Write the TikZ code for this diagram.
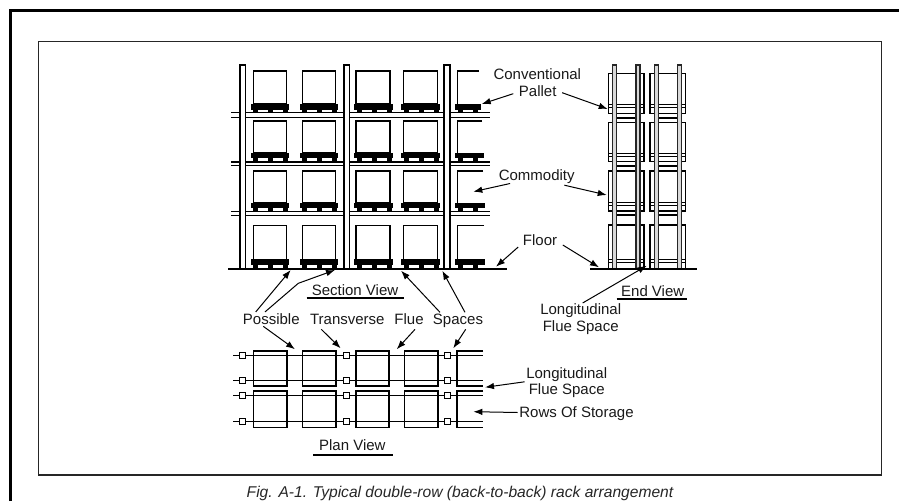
\documentclass[tikz,border=0pt]{standalone}
\usepackage{fontspec}
\setmainfont{Liberation Sans}
\usetikzlibrary{arrows.meta}

\begin{document}
\begin{tikzpicture}[x=1pt, y=-1pt,
    frameline/.style={line width=1.1pt, draw=black!85},
    rackline/.style={line width=1.4pt},
    upright/.style={line width=1.4pt, draw=black, fill=white},
    leader/.style={line width=1pt, -{Latex[length=9pt,width=6.5pt]}},
    viewline/.style={line width=1.8pt},
    lbl/.style={font=\fontsize{15}{16.7}\selectfont, text=black!90, inner sep=1.5pt, align=center}]
    \useasboundingbox (0, 0) rectangle (899, 501);
    % frames
    \draw [line width=3pt] (10, 501) -- (10, 10.5) -- (899, 10.5);
    \draw [frameline] (38.5, 41.5) rectangle (881.5, 475);
    % section view: beams and floor
    \draw [rackline] (231, 112.3) -- (490, 112.3);
    \draw [rackline] (231, 117.3) -- (490, 117.3);
    \draw [rackline] (231, 162) -- (490, 162);
    \draw [rackline] (231, 165.5) -- (490, 165.5);
    \draw [rackline] (231, 211.7) -- (490, 211.7);
    \draw [rackline] (231, 215.7) -- (490, 215.7);
    \draw [line width=2pt] (228, 269) -- (506.5, 269);
    % section view: uprights
    \foreach \x/\w in {240/5.5, 344/5.5, 444/6}
        \draw [upright] (\x, 65) rectangle ++(\w, 204);
    % section view: commodity
    \foreach \top/\bot/\open in {71/104/479, 121/153/482, 171/203/483, 225.7/260/484} {
        \foreach \x/\w in {253.3/33.4, 302.3/33.4, 356/34, 403.3/34}
            \draw [rackline] (\x, \top) rectangle ++(\w, \bot-\top);
        \draw [rackline] (\open, \top) -- (457.3, \top) -- (457.3, \bot);
    }
    % section view: pallets
    \foreach \y/\z in {104/112.3, 152.7/162, 202.7/211.7, 259.3/269} {
        \foreach \x in {250.7, 299.5, 354, 401} {
            \fill (\x, \y) rectangle ++(38.6, 5.5);
            \foreach \b in {2.5, 17.5, 32.5}
                \fill (\x+\b, \y) rectangle (\x+\b+5.2, \z);
        }
    }
    \foreach \y/\z/\e in {104/112.3/481, 152.7/162/484, 202.7/211.7/485, 259.3/269/485} {
        \fill (455, \y) rectangle (\e, \y+5.5);
        \foreach \b in {2.5, 17.5}
            \fill (455+\b, \y) rectangle (455+\b+5.2, \z);
    }
    % end view
    \foreach \x in {608.3, 650} {
        \foreach \top/\dk/\mid/\bot in {73.3/104.3/107.7/113.3, 122.7/153.3/156.7/161.7, 171/202.3/205.7/211, 225/259.3/262.7/269} {
            \draw [rackline] (\x, \top) rectangle (\x+35.7, \bot);
            \draw [rackline] (\x, \dk) -- ++(35.7, 0);
            \draw [rackline] (\x, \mid) -- ++(35.7, 0);
        }
        \foreach \y in {118, 166, 215}
            \draw [line width=1.7pt] (\x+6, \y) -- ++(24, 0);
        \draw [upright, draw=black!85, fill=black!15] (\x+4.4, 65) rectangle ++(4, 204);
        \draw [upright, draw=black!85, fill=black!15] (\x+27.7, 65) rectangle ++(4, 204);
    }
    \draw [line width=2pt] (590, 269) -- (696.7, 269);
    % plan view
    \foreach \top/\bot in {350.7/385.7, 390.7/427.3} {
        \foreach \x/\w in {253.3/33.4, 302.3/33.4, 356/33, 404.3/33.4}
            \draw [line width=1.6pt] (\x, \top) rectangle ++(\w, \bot-\top);
        \draw [line width=1.6pt] (483, \top) -- (456.7, \top) -- (456.7, \bot) -- (483, \bot);
    }
    \foreach \y in {355, 380.7, 395, 421} {
        \draw [line width=0.9pt] (233, \y) -- (483, \y);
        \foreach \x in {242.3, 346.3, 447.3}
            \draw [line width=0.9pt, fill=white] (\x-3, \y-3) rectangle ++(6, 6);
    }
    % labels
    \node [lbl] (conventional) at (537.3, 74) {Conventional};
    \node [lbl] (pallet) at (537.7, 90.7) {Pallet};
    \node [lbl] (commodity) at (536.7, 176.5) {Commodity};
    \node [lbl] (floor) at (540, 240) {Floor};
    \node [lbl] (endview) at (652.7, 291.5) {End View};
    \node [lbl] (flueend) at (580.7, 319) {Longitudinal\\Flue Space};
    \node [lbl] (sectionview) at (355, 290) {Section View};
    \node [lbl, anchor=base] (possible) at (271.3, 324.5) {Possible};
    \node [lbl, anchor=base] (transverse) at (347.3, 324.5) {Transverse};
    \node [lbl, anchor=base] (flue) at (409, 324.5) {Flue};
    \node [lbl, anchor=base] (spaces) at (458, 324.5) {Spaces};
    \node [lbl] (flueplan) at (566.7, 382.5) {Longitudinal\\Flue Space};
    \node [lbl, anchor=west] (rows) at (517.7, 413.5) {Rows Of Storage};
    \node [lbl] (planview) at (352.3, 445) {Plan View};
    \node [font=\fontsize{15.6}{17}\selectfont\itshape, text=black!85, inner sep=0pt] (caption) at (460, 493)
        {Fig. A-1. Typical double-row (back-to-back) rack arrangement};
    % underlines
    \draw [viewline] (306.7, 298) -- (404, 298);
    \draw [viewline] (616.7, 298.7) -- (686.7, 298.7);
    \draw [viewline] (313, 455) -- (393, 455);
    % arrow ends
    \coordinate (palletL) at (481.7, 104);
    \coordinate (palletR) at (607.7, 109);
    \coordinate (commodityL) at (473.3, 191.7);
    \coordinate (commodityR) at (606.7, 195);
    \coordinate (floorL) at (496, 266.7);
    \coordinate (floorR) at (599, 267.3);
    \coordinate (flueEndTip) at (646.7, 265.7);
    \coordinate (sectionA) at (290.7, 270);
    \coordinate (sectionB) at (335, 270);
    \coordinate (sectionBend) at (298.3, 283.3);
    \coordinate (sectionC) at (401, 270.7);
    \coordinate (sectionD) at (442.3, 270.7);
    \coordinate (planA) at (295, 349.3);
    \coordinate (planB) at (340.7, 348.3);
    \coordinate (planC) at (396.7, 349.3);
    \coordinate (planD) at (453.3, 348.3);
    \coordinate (flueTip) at (485, 387.3);
    \coordinate (rowsTip) at (473.3, 411.7);
    % arrows
    \draw [leader] ([xshift=-4pt, yshift=-3pt]pallet.west) -- (palletL);
    \draw [leader] ([xshift=4pt, yshift=-2pt]pallet.east) -- (palletR);
    \draw [leader] ([xshift=13pt, yshift=1.7pt]commodity.south west) -- (commodityL);
    \draw [leader] ([xshift=-12pt]commodity.south east) -- (commodityR);
    \draw [leader] ([xshift=-3pt, yshift=-7pt]floor.west) -- (floorL);
    \draw [leader] ([xshift=4pt, yshift=-5pt]floor.east) -- (floorR);
    \draw [leader] ([xshift=2pt, yshift=-1pt]flueend.north) -- (flueEndTip);
    \draw [leader] ([xshift=-15.6pt]possible.north) -- (sectionA);
    \draw [leader] ([xshift=-6.3pt]possible.north) -- (sectionBend) -- (sectionB);
    \draw [leader] ([xshift=-18pt]spaces.north) -- (sectionC);
    \draw [leader] ([xshift=7pt]spaces.north) -- (sectionD);
    \draw [leader] ([xshift=-8pt]possible.south) -- (planA);
    \draw [leader] ([xshift=-26pt, yshift=-3pt]transverse.south) -- (planB);
    \draw [leader] ([xshift=6pt, yshift=-3pt]flue.south) -- (planC);
    \draw [leader] ([xshift=7.7pt]spaces.south) -- (planD);
    \draw [leader] ([yshift=0.7pt]flueplan.west) -- (flueTip);
    \draw [leader] ([yshift=1pt]rows.west) -- (rowsTip);
\end{tikzpicture}
\end{document}
